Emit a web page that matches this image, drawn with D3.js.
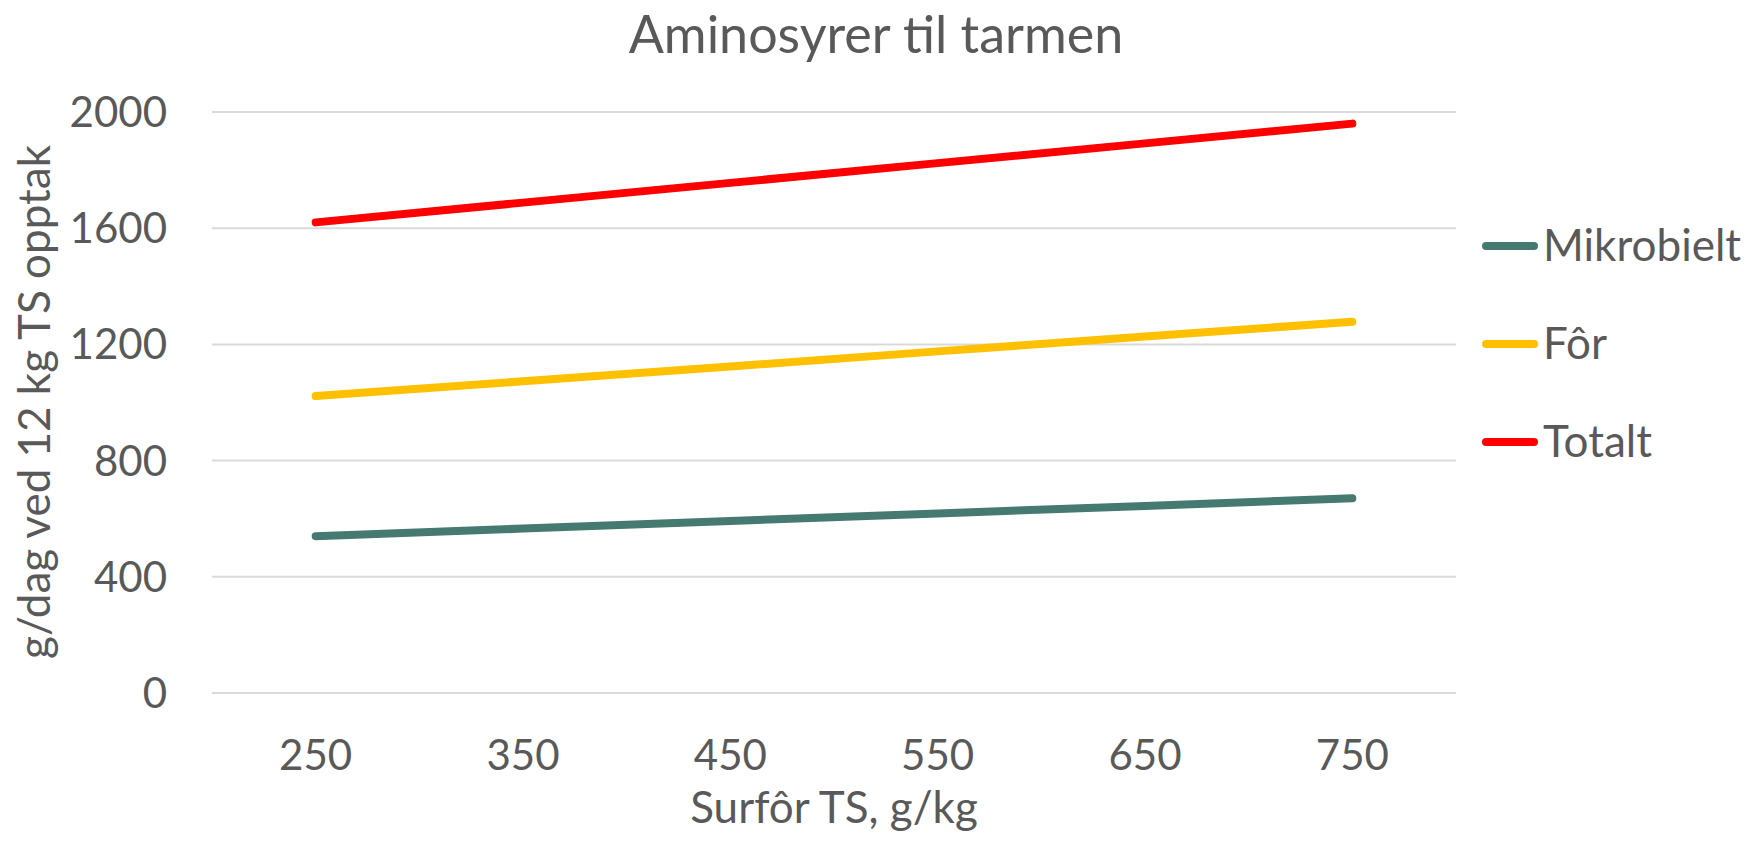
<!DOCTYPE html>
<html>
<head>
<meta charset="utf-8">
<script src="https://cdn.jsdelivr.net/npm/d3@7"></script>
<style>
  body { margin: 0; background: #fff; }
  text { font-family: Lato, "Open Sans", sans-serif; fill: #595959; }
</style>
</head>
<body>
<svg width="1752" height="845"></svg>
<script>
// data
let categories = ["250", "350", "450", "550", "650", "750"];
let mikrobielt = [540, 566, 592, 618, 644, 670];
let foer = [1022, 1073, 1124, 1176, 1227, 1278];
let totalt = [1620, 1688, 1756, 1824, 1892, 1960];
let yTicks = [0, 400, 800, 1200, 1600, 2000];

let series = [
    {name: "Mikrobielt", values: mikrobielt, color: "#467A70"},
    {name: "Fôr", values: foer, color: "#FFC000"},
    {name: "Totalt", values: totalt, color: "#FF0000"}
];

let svg = d3.select("svg");
let plotLeft = 212, plotRight = 1456, plotTop = 112, plotBottom = 693;

let x = d3.scalePoint()
    .domain(categories)
    .range([plotLeft, plotRight])
    .padding(0.5);

let y = d3.scaleLinear()
    .domain([0, 2000])
    .range([plotBottom, plotTop]);

// gridlines
svg.append("g")
    .selectAll("line")
    .data(yTicks)
    .enter().append("line")
    .attr("x1", plotLeft)
    .attr("x2", plotRight)
    .attr("y1", d => y(d))
    .attr("y2", d => y(d))
    .attr("stroke", "#D9D9D9")
    .attr("stroke-width", 2);

// y tick labels
svg.append("g")
    .selectAll("text")
    .data(yTicks)
    .enter().append("text")
    .attr("x", 167)
    .attr("y", d => y(d) + 15)
    .attr("text-anchor", "end")
    .style("font-size", "42px")
    .text(d => d);

// x tick labels
svg.append("g")
    .selectAll("text")
    .data(categories)
    .enter().append("text")
    .attr("x", d => x(d))
    .attr("y", 770)
    .attr("text-anchor", "middle")
    .style("font-size", "42px")
    .text(d => d);

// lines
let line = d3.line()
    .x((d, i) => x(categories[i]))
    .y(d => y(d));

svg.append("g")
    .selectAll("path")
    .data(series)
    .enter().append("path")
    .attr("d", d => line(d.values))
    .attr("fill", "none")
    .attr("stroke", d => d.color)
    .attr("stroke-width", 8)
    .attr("stroke-linecap", "round")
    .attr("stroke-linejoin", "round");

// legend
let legend = svg.append("g")
    .selectAll("g")
    .data(series)
    .enter().append("g")
    .attr("transform", (d, i) => "translate(0," + (246 + i * 98) + ")");

legend.append("line")
    .attr("x1", 1486)
    .attr("x2", 1534)
    .attr("stroke", d => d.color)
    .attr("stroke-width", 8)
    .attr("stroke-linecap", "round");

legend.append("text")
    .attr("x", 1543)
    .attr("y", 15)
    .style("font-size", "44px")
    .text(d => d.name);

// title + axis titles
svg.append("text")
    .attr("x", 876)
    .attr("y", 53)
    .attr("text-anchor", "middle")
    .style("font-size", "52px")
    .text("Aminosyrer til tarmen");

svg.append("text")
    .attr("x", 834)
    .attr("y", 823)
    .attr("text-anchor", "middle")
    .style("font-size", "44px")
    .text("Surfôr TS, g/kg");

svg.append("text")
    .attr("transform", "translate(50,402) rotate(-90)")
    .attr("text-anchor", "middle")
    .style("font-size", "44px")
    .text("g/dag ved 12 kg TS opptak");
</script>
</body>
</html>
